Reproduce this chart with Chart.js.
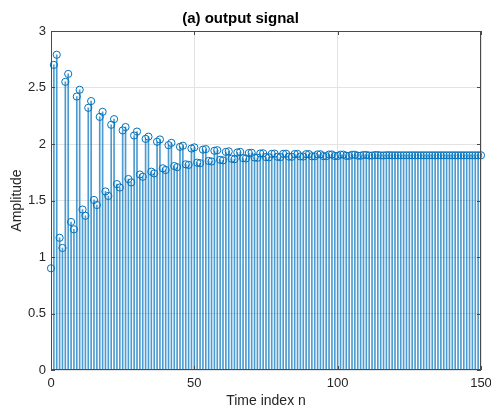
<!DOCTYPE html>
<html><head><meta charset="utf-8">
<script src="https://cdn.jsdelivr.net/npm/chart.js@4.4.1/dist/chart.umd.min.js"></script>
<style>html,body{margin:0;padding:0;background:#fff}canvas{display:block}</style>
</head><body>
<canvas id="c" width="491" height="410"></canvas>
<script>
// Output signal amplitude for n = 0 .. 150
const amplitude = [
  0.90, 2.70, 2.79, 1.17, 1.08, 2.55, 2.62, 1.31, 1.245, 2.42,
  2.48, 1.42, 1.365, 2.32, 2.38, 1.505, 1.46, 2.24, 2.285, 1.58,
  1.54, 2.17, 2.22, 1.645, 1.615, 2.12, 2.15, 1.69, 1.66, 2.075,
  2.11, 1.73, 1.71, 2.045, 2.065, 1.755, 1.74, 2.02, 2.04, 1.785,
  1.77, 1.99, 2.01, 1.805, 1.795, 1.975, 1.985, 1.82, 1.815, 1.96,
  1.97, 1.835, 1.83, 1.95, 1.955, 1.85, 1.845, 1.94, 1.945, 1.86,
  1.855, 1.93, 1.935, 1.87, 1.865, 1.925, 1.93, 1.875, 1.872, 1.92,
  1.922, 1.88, 1.878, 1.916, 1.918, 1.884, 1.882, 1.913, 1.915, 1.887,
  1.884, 1.913, 1.914, 1.888, 1.887, 1.911, 1.912, 1.89, 1.889, 1.91,
  1.91, 1.891, 1.891, 1.908, 1.909, 1.893, 1.892, 1.907, 1.907, 1.894,
  1.894, 1.906, 1.906, 1.895, 1.895, 1.905, 1.905, 1.897, 1.896, 1.903,
  1.903, 1.898, 1.898, 1.902, 1.902, 1.899, 1.899, 1.901, 1.901, 1.9,
  1.9, 1.9, 1.9, 1.9, 1.9, 1.9, 1.9, 1.9, 1.9, 1.9,
  1.9, 1.9, 1.9, 1.9, 1.9, 1.9, 1.9, 1.9, 1.9, 1.9,
  1.9, 1.9, 1.9, 1.9, 1.9, 1.9, 1.9, 1.9, 1.9, 1.9,
  1.9
];
const timeIndex = amplitude.map((_, i) => i);
const xTicks = [0, 50, 100, 150];
const yTicks = [0, 0.5, 1, 1.5, 2, 2.5, 3];
const titleText = '(a) output signal';
const xLabel = 'Time index n';
const yLabel = 'Amplitude';

const points = timeIndex.map((n, i) => ({x: n, y: amplitude[i]}));
const BLUE = '#0072BD';
const AX = '#262626';
const BOX = '#4a4a4a';
const FONT = "'Liberation Sans', Arial, Helvetica, sans-serif";

const boxPlugin = {
  id: 'matlabBox',
  afterDraw(chart) {
    const {ctx, chartArea: a, scales: {x, y}} = chart;
    ctx.save();
    ctx.strokeStyle = BOX;
    ctx.lineWidth = 1;
    ctx.strokeRect(a.left + 0.5, a.top + 0.5, a.right - a.left - 1, a.bottom - a.top - 1);
    const tl = 4;
    ctx.beginPath();
    xTicks.forEach(v => {
      const px = Math.round(x.getPixelForValue(v)) + 0.5;
      ctx.moveTo(px, a.bottom); ctx.lineTo(px, a.bottom - tl);
      ctx.moveTo(px, a.top); ctx.lineTo(px, a.top + tl);
    });
    yTicks.forEach(v => {
      const py = Math.round(y.getPixelForValue(v)) + 0.5;
      ctx.moveTo(a.left, py); ctx.lineTo(a.left + tl, py);
      ctx.moveTo(a.right, py); ctx.lineTo(a.right - tl, py);
    });
    ctx.stroke();
    ctx.restore();
  }
};

new Chart(document.getElementById('c'), {
  type: 'bar',
  data: {
    datasets: [
      {
        type: 'scatter',
        data: points,
        pointStyle: 'circle',
        pointRadius: 3.6,
        pointBorderWidth: 1,
        borderColor: BLUE,
        backgroundColor: 'rgba(0,0,0,0)',
        clip: false,
        order: 0
      },
      {
        type: 'bar',
        data: points,
        barThickness: 1,
        backgroundColor: 'rgba(0,114,189,0.7)',
        borderWidth: 0,
        order: 1
      }
    ]
  },
  options: {
    responsive: false,
    animation: false,
    events: [],
    layout: { padding: { left: 0, right: 10, top: 0, bottom: 0 } },
    plugins: {
      legend: { display: false },
      tooltip: { enabled: false },
      title: {
        display: true,
        text: titleText,
        color: '#000',
        font: { family: FONT, size: 15, weight: 'bold', lineHeight: 1.2 },
        padding: { top: 10, bottom: 3 }
      }
    },
    scales: {
      x: {
        type: 'linear',
        offset: false,
        min: 0, max: 150,
        afterBuildTicks(s) { s.ticks = xTicks.map(v => ({value: v})); },
        afterFit(s) { s.height = 40; s.paddingLeft = 0; s.paddingRight = 0; },
        ticks: { color: AX, font: { family: FONT, size: 13 }, padding: 6, maxRotation: 0, autoSkip: false, callback: v => String(v) },
        grid: { color: '#e3e3e3', lineWidth: 1, drawTicks: false, offset: false },
        border: { display: false },
        title: { display: true, text: xLabel, color: AX, font: { family: FONT, size: 14, lineHeight: 1.2 }, padding: { top: 0, bottom: 0 } }
      },
      y: {
        type: 'linear',
        min: 0, max: 3,
        afterBuildTicks(s) { s.ticks = yTicks.map(v => ({value: v})); },
        afterFit(s) { s.width = 51; s.paddingTop = 0; s.paddingBottom = 0; },
        ticks: { color: AX, font: { family: FONT, size: 13 }, padding: 5, autoSkip: false, callback: v => String(v) },
        grid: { color: '#e3e3e3', lineWidth: 1, drawTicks: false },
        border: { display: false },
        title: { display: true, text: yLabel, color: AX, font: { family: FONT, size: 14, lineHeight: 1.2 }, padding: { top: 8.3, bottom: 0 } }
      }
    }
  },
  plugins: [boxPlugin]
});
</script>
</body></html>
